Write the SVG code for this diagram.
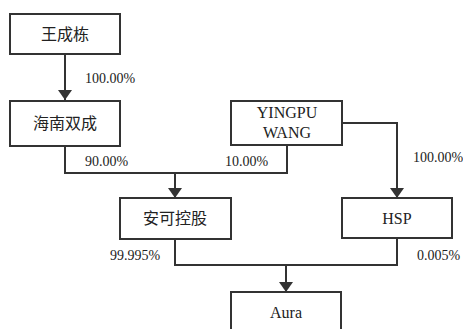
<svg xmlns="http://www.w3.org/2000/svg" width="463" height="329" viewBox="0 0 463 329">
<defs>
<style>
.box{fill:#fff;stroke:#333;stroke-width:2}
.t{font-family:"Liberation Serif","Noto Sans CJK SC",serif;font-size:16px;fill:#222;text-anchor:middle}
.p{font-family:"Liberation Serif",serif;font-size:14px;fill:#222}
.c{fill:none;stroke:#333;stroke-width:2}
</style>
<marker id="arr" viewBox="0 0 10 14" refX="10" refY="7" markerWidth="10" markerHeight="14" markerUnits="userSpaceOnUse" orient="auto">
<path d="M0,0 L10,7 L0,14 Z" fill="#333"/>
</marker>
</defs>
<rect width="463" height="329" fill="#fff"/>
<g id="connectors">
<path class="c" d="M65,54 V100" marker-end="url(#arr)"/>
<path class="c" d="M65,146 V173 H287 V145"/>
<path class="c" d="M175,173 V198" marker-end="url(#arr)"/>
<path class="c" d="M342,123 H397 V198" marker-end="url(#arr)"/>
<path class="c" d="M175,239 V265 H397 V238"/>
<path class="c" d="M286,265 V292" marker-end="url(#arr)"/>
</g>
<g id="labels">
<text class="p" x="85" y="83">100.00%</text>
<text class="p" x="85" y="166">90.00%</text>
<text class="p" x="225" y="166">10.00%</text>
<text class="p" x="413" y="162">100.00%</text>
<text class="p" x="110" y="260">99.995%</text>
<text class="p" x="417" y="260">0.005%</text>
</g>
<g id="n1"><rect class="box" x="10" y="14" width="110" height="40"/><text class="t" x="65" y="40">王成栋</text></g>
<g id="n2"><rect class="box" x="10" y="101" width="110" height="45"/><text class="t" x="65" y="129">海南双成</text></g>
<g id="n3"><rect class="box" x="231" y="101" width="111" height="44"/><text class="t" x="287" y="118">YINGPU</text><text class="t" x="287" y="138">WANG</text></g>
<g id="n4"><rect class="box" x="120" y="198" width="111" height="41"/><text class="t" x="175" y="224">安可控股</text></g>
<g id="n5"><rect class="box" x="342" y="198" width="110" height="40"/><text class="t" x="397" y="224">HSP</text></g>
<g id="n6"><rect class="box" x="231" y="292" width="110" height="45"/><text class="t" x="286" y="318">Aura</text></g>
</svg>
